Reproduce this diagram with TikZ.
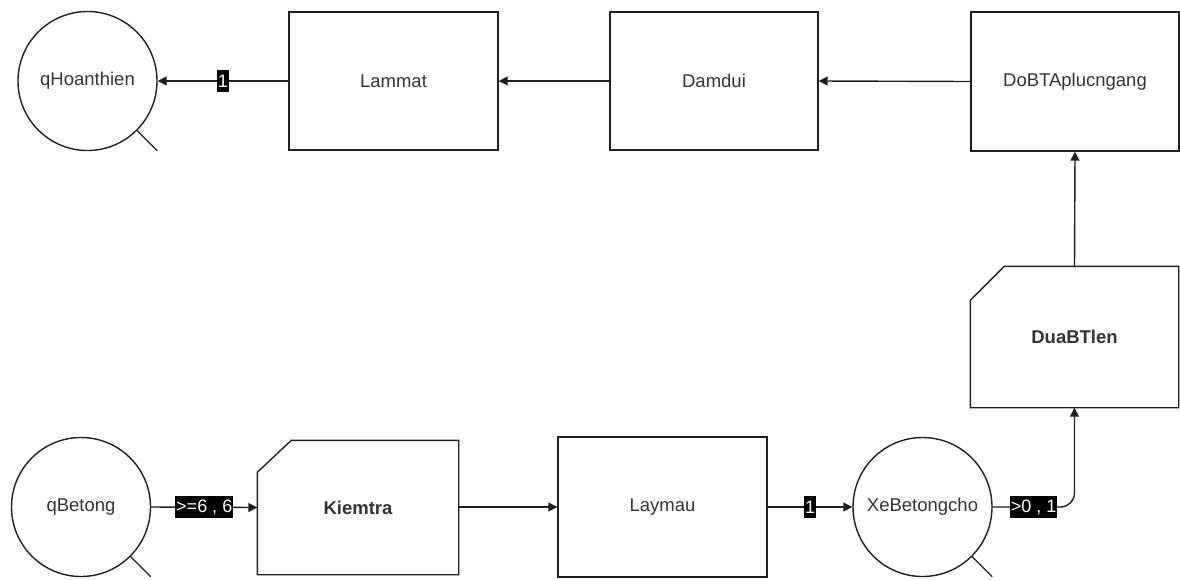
\documentclass[tikz,border=0pt]{standalone}
\usepackage{fontspec}
\setmainfont{Liberation Sans}
\usetikzlibrary{arrows.meta,calc}
\definecolor{ink}{HTML}{1F1F1F}
\definecolor{txt}{HTML}{333333}
\begin{document}
\begin{tikzpicture}[x=1pt,y=-1pt,
  line width=1.4pt, draw=ink,
  every node/.style={font=\fontsize{18.5}{22}\selectfont, text=txt},
  queue/.style={circle, draw, minimum size=139pt, inner sep=0pt},
  task/.style={rectangle, draw, inner sep=0pt},
  gate/.style={rectangle, inner sep=0pt, font=\fontsize{18.5}{22}\selectfont\bfseries},
  lbl/.style={sharp corners, fill=black, text=white, inner xsep=1pt, inner ysep=0pt,
    minimum height=22pt, font=\fontsize{18}{20}\selectfont},
  flow/.style={draw=ink, -{Triangle[length=9pt,width=9pt]}}]
\useasboundingbox (0,0) rectangle (1180,579);

% upper row
\node[queue] (qhoan) at (87.5,81) {qHoanthien};
\node[task, minimum width=209pt, minimum height=138pt] (lammat) at (393.5,81) {Lammat};
\node[task, minimum width=208pt, minimum height=138pt] (damdui) at (714,81) {Damdui};
\node[task, minimum width=208pt, minimum height=139pt] (dobta) at (1075,81.5) {DoBTAplucngang};

% chamfered step on the right
\node[gate, minimum width=207pt, minimum height=140pt] (dua) at (1074.5,337) {DuaBTlen};
\draw[ink] ($(dua.north west)+(0,34)$) -- ($(dua.north west)+(34,0)$) -- (dua.north east)
  -- (dua.south east) -- (dua.south west) -- cycle;

% lower row
\node[queue] (qbet) at (81,507) {qBetong};
\node[gate, minimum width=200pt, minimum height=133pt] (kiem) at (358,507.5) {Kiemtra};
\draw[ink] ($(kiem.north west)+(0,32)$) -- ($(kiem.north west)+(34,0)$) -- (kiem.north east)
  -- (kiem.south east) -- (kiem.south west) -- cycle;
\node[task, minimum width=209pt, minimum height=140pt] (laymau) at (662.5,507) {Laymau};
\node[queue] (xe) at (922.5,507) {XeBetongcho};

% queue tails
\draw[ink] (qhoan.-45) -- ++(20,20);
\draw[ink] (qbet.-45) -- ++(20,20);
\draw[ink] (xe.-45) -- ++(20,20);

% connectors
\draw[flow] (qbet.east) -- node[lbl] {>=6 , 6} (kiem.west);
\draw[flow] (kiem.east |- laymau.west) -- (laymau.west);
\draw[flow] (laymau.east) -- node[lbl] {1} (xe.west);
\coordinate (bend) at (dua.south |- xe.east);
\draw[flow, rounded corners=14pt] (xe.east) -- node[lbl] {>0 , 1} (bend) -- (dua.south);
\draw[flow] (dua.north) -- (dobta.south);
\draw[flow] (dobta.west) -- (damdui.east);
\draw[flow] (damdui.west) -- (lammat.east);
\draw[flow] (lammat.west) -- node[lbl] {1} (qhoan.east);
\end{tikzpicture}
\end{document}
